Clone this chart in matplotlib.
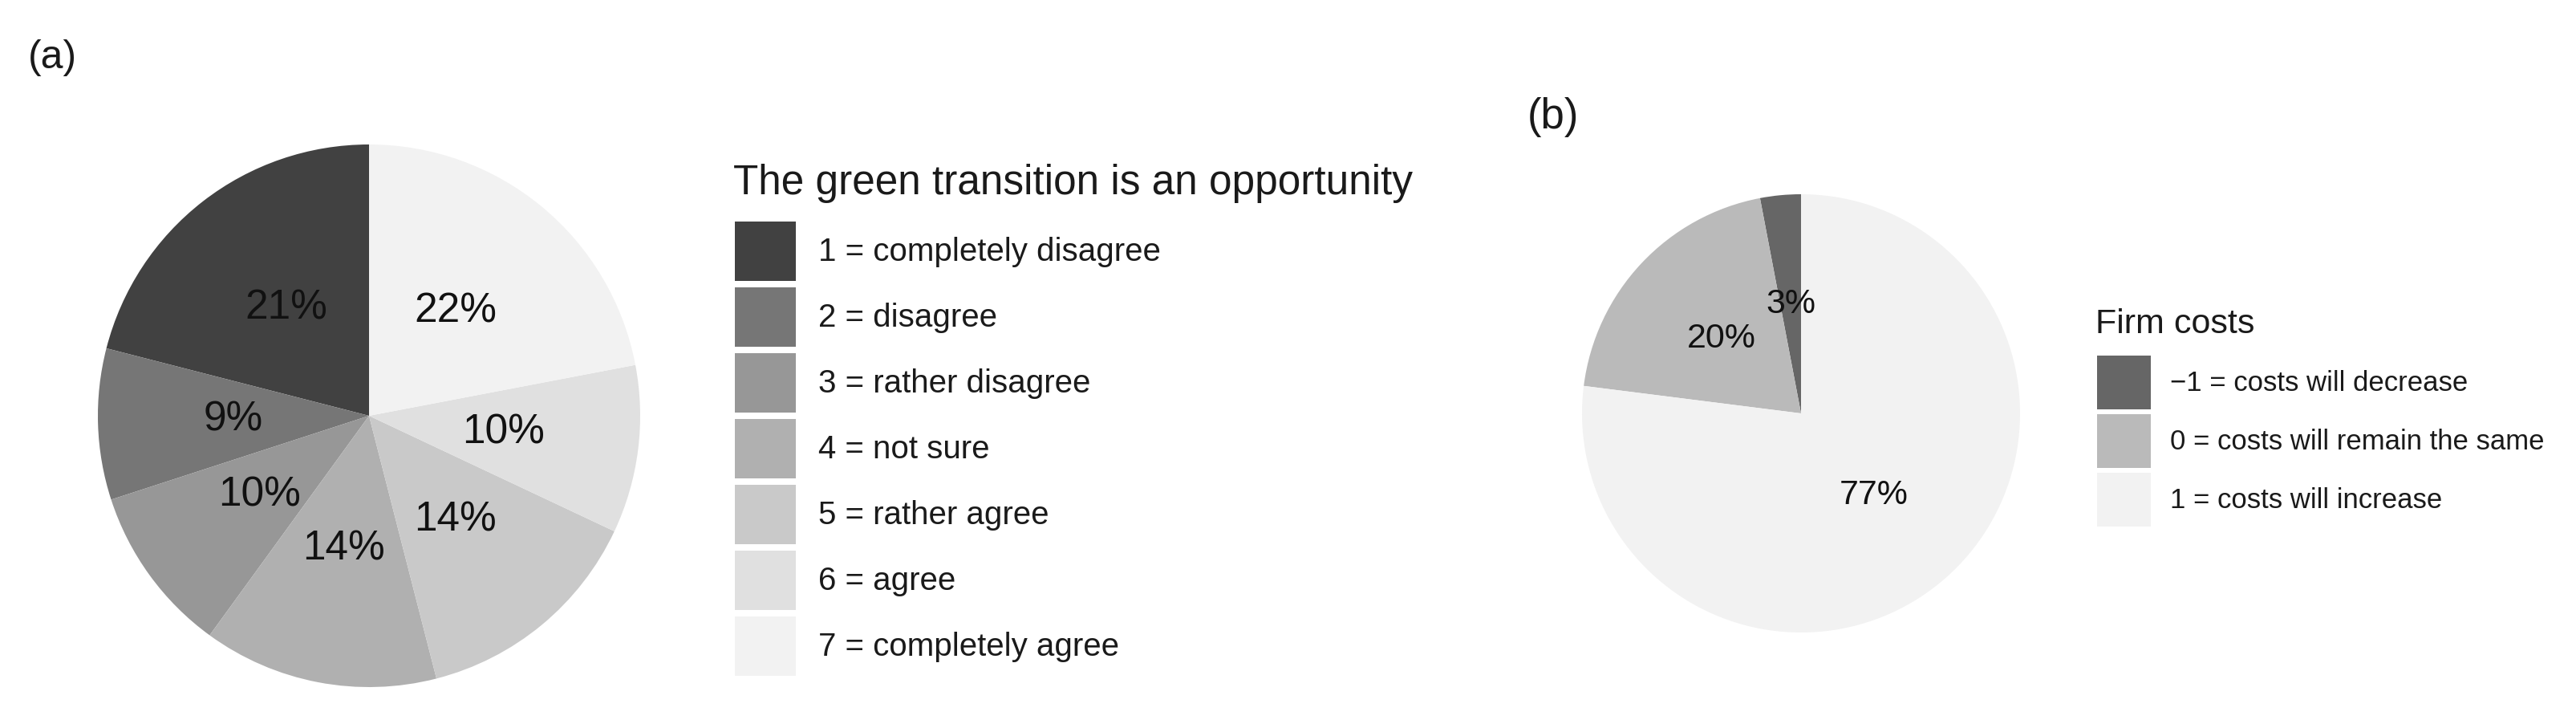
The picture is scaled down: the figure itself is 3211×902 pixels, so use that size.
import matplotlib
matplotlib.use("Agg")
import matplotlib.pyplot as plt

plt.rcParams['font.family'] = ['Liberation Sans', 'DejaVu Sans']

# panel (a): is the green transition an opportunity
opp_title = "The green transition is an opportunity"
opp_labels = ["1 = completely disagree", "2 = disagree", "3 = rather disagree",
              "4 = not sure", "5 = rather agree", "6 = agree", "7 = completely agree"]
opp_share = [21, 9, 10, 14, 14, 10, 22]
opp_colors = ['#414141', '#767676', '#979797', '#b0b0b0', '#c9c9c9', '#e0e0e0', '#f2f2f2']

# panel (b): expected firm costs
cost_title = "Firm costs"
cost_labels = ["\u22121 = costs will decrease", "0 = costs will remain the same",
               "1 = costs will increase"]
cost_share = [3, 20, 77]
cost_colors = ['#666666', '#bababa', '#f2f2f2']

W, H, DPI = 3211, 902, 100
fig = plt.figure(figsize=(W / DPI, H / DPI), dpi=DPI)


def px_axes(cx, cy, r):
    # square axes around a pie centre given in pixels (y from the top)
    return fig.add_axes([(cx - r) / W, (H - cy - r) / H, 2 * r / W, 2 * r / H])


def draw_pie(ax, share, colors, fs):
    wedges, _, _ = ax.pie(share, colors=colors, startangle=90, counterclock=True,
                          autopct=lambda p: f"{p:.0f}%", pctdistance=0.5,
                          textprops=dict(fontsize=fs, color='#111111'),
                          wedgeprops=dict(linewidth=0))
    ax.set_xlim(-1, 1)
    ax.set_ylim(-1, 1)
    return wedges


def draw_legend(wedges, labels, x, y_top, fs, w_px, h_px, gap_px, pad_px):
    fpx = fs * DPI / 72
    # legend box height = fs*hh - 0.35*fs*(hh-0.7), solve for hh
    hh = (h_px / fpx - 0.245) / 0.65
    fig.legend(wedges, labels, loc='upper left',
               bbox_to_anchor=(x / W, 1 - y_top / H), frameon=False,
               fontsize=fs, labelcolor='#1a1a1a',
               handlelength=w_px / fpx, handleheight=hh,
               labelspacing=gap_px / fpx, handletextpad=pad_px / fpx,
               borderpad=0, borderaxespad=0)


# (a)
ax_a = px_axes(460, 518, 338)
w_a = draw_pie(ax_a, opp_share, opp_colors, 37)
fig.text(914 / W, 1 - 242 / H, opp_title, fontsize=37, va='baseline', color='#1a1a1a')
draw_legend(w_a, opp_labels, 916, 276, 29, 76, 74, 8, 28)
fig.text(35 / W, 1 - 72 / H, "(a)", fontsize=36, va='center', color='#1a1a1a')

# (b)
ax_b = px_axes(2245, 515, 273)
w_b = draw_pie(ax_b, cost_share, cost_colors, 31)
fig.text(2612 / W, 1 - 415 / H, cost_title, fontsize=31, va='baseline', color='#1a1a1a')
draw_legend(w_b, cost_labels, 2614, 443, 25, 67, 67, 6, 24)
fig.text(1904 / W, 1 - 146 / H, "(b)", fontsize=38, va='center', color='#1a1a1a')

fig.savefig("out.png", dpi=DPI, facecolor='white')
